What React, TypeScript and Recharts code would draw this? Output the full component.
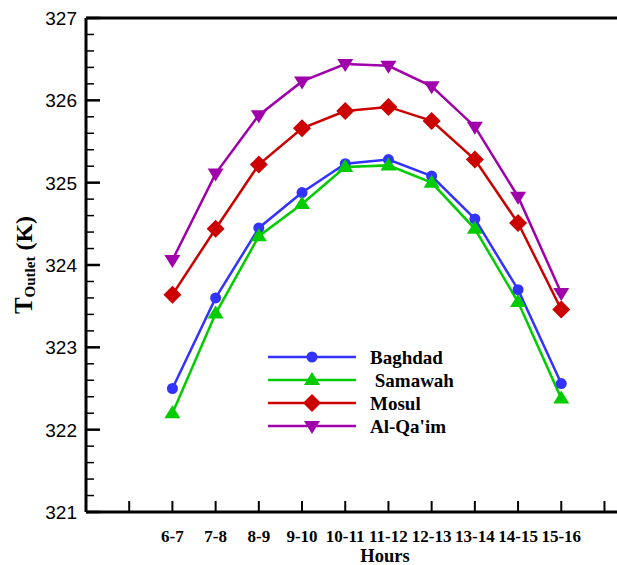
import { Label, Line, LineChart, ReferenceLine, XAxis, YAxis } from 'recharts';

const hours = ['6-7', '7-8', '8-9', '9-10', '10-11', '11-12', '12-13', '13-14', '14-15', '15-16'];
const baghdad = [322.5, 323.6, 324.45, 324.88, 325.23, 325.28, 325.08, 324.56, 323.7, 322.56];
const samawah = [322.2, 323.41, 324.35, 324.74, 325.19, 325.21, 325.0, 324.44, 323.55, 322.38];
const mosul = [323.64, 324.44, 325.22, 325.66, 325.87, 325.92, 325.75, 325.28, 324.51, 323.46];
const alQaim = [324.06, 325.11, 325.82, 326.23, 326.44, 326.42, 326.17, 325.68, 324.83, 323.66];

const yMajor = [321, 322, 323, 324, 325, 326, 327];
const xTicks = [-1, 0, 1, 2, 3, 4, 5, 6, 7, 8, 9, 10];

const series = [
    { key: 'baghdad', name: 'Baghdad', color: '#3333ff', shape: 'circle', values: baghdad },
    { key: 'samawah', name: ' Samawah', color: '#00cc00', shape: 'triangle', values: samawah },
    { key: 'mosul', name: 'Mosul', color: '#cc0000', shape: 'diamond', values: mosul },
    { key: 'alQaim', name: "Al-Qa'im", color: '#a000aa', shape: 'down', values: alQaim },
];

const data = hours.map((h, i) => {
    const row: any = { x: i, hour: h };
    series.forEach((s) => (row[s.key] = s.values[i]));
    return row;
});

// 4 minor ticks between every pair of major ticks
const yTicks: number[] = [];
yMajor.forEach((v, i) => {
    yTicks.push(v);
    if (i < yMajor.length - 1) for (let k = 1; k < 5; k++) yTicks.push(+(v + k * 0.2).toFixed(1));
});

const serif = '"Liberation Serif", "Times New Roman", serif';
const sans = '"Liberation Sans", Arial, sans-serif';

const Marker = ({ shape, cx, cy, color }: any) => {
    if (cx == null || cy == null) return null;
    if (shape === 'circle') return <circle cx={cx} cy={cy} r={5.5} fill={color} />;
    if (shape === 'triangle')
        return <polygon points={`${cx},${cy - 8} ${cx + 8},${cy + 5} ${cx - 8},${cy + 5}`} fill={color} />;
    if (shape === 'diamond')
        return <polygon points={`${cx},${cy - 9} ${cx + 9},${cy} ${cx},${cy + 9} ${cx - 9},${cy}`} fill={color} />;
    return <polygon points={`${cx - 8},${cy - 5} ${cx + 8},${cy - 5} ${cx},${cy + 8}`} fill={color} />;
};

const XTick = ({ x, y, payload }: any) => {
    const label = hours[payload.value];
    return (
        <g>
            <line x1={x} y1={y} x2={x} y2={y - 11} stroke="#000" strokeWidth={2} />
            {label && (
                <text x={x} y={y + 30} textAnchor="middle" fontFamily={serif} fontWeight="bold" fontSize={17} fill="#000">
                    {label}
                </text>
            )}
        </g>
    );
};

const YTick = ({ x, y, payload }: any) => {
    const major = Number.isInteger(payload.value);
    return (
        <g>
            <line x1={x} y1={y} x2={x + (major ? 14 : 8)} y2={y} stroke="#000" strokeWidth={major ? 2.5 : 1.5} />
            {major && (
                <text x={x - 9} y={y + 7} textAnchor="end" fontFamily={sans} fontSize={19} fill="#000">
                    {payload.value}
                </text>
            )}
        </g>
    );
};

const YLabel = () => (
    <text transform="translate(32,265) rotate(-90)" textAnchor="middle" fontFamily={serif} fontWeight="bold" fill="#000">
        <tspan fontSize={25}>T</tspan>
        <tspan fontSize={15} dy={3}>Outlet</tspan>
        <tspan fontSize={24} dy={-3}>{'  (K)'}</tspan>
    </text>
);

const LegendBox = () => (
    <svg width={617} height={565} style={{ position: 'absolute', left: 0, top: 0, pointerEvents: 'none' }}>
        {series.map((s, i) => {
            const y = 357 + i * 23;
            return (
                <g key={s.key}>
                    <line x1={268} y1={y} x2={356} y2={y} stroke={s.color} strokeWidth={2.5} />
                    <Marker shape={s.shape} cx={312} cy={y} color={s.color} />
                    <text x={370} y={y + 6.5} fontFamily={serif} fontWeight="bold" fontSize={19} fill="#000" style={{ whiteSpace: 'pre' }}>
                        {s.name}
                    </text>
                </g>
            );
        })}
    </svg>
);

export default function App() {
    return (
        <div style={{ position: 'absolute', left: 0, top: 0, width: 617, height: 565, overflow: 'hidden', background: '#fff' }}>
            <LineChart width={617} height={565} data={data} margin={{ top: 18, right: 0, bottom: 0, left: 0 }}>
                <XAxis
                    type="number"
                    dataKey="x"
                    domain={[-2, 10.29]}
                    ticks={xTicks}
                    interval={0}
                    allowDataOverflow
                    height={53}
                    tickLine={false}
                    tickSize={0}
                    tickMargin={0}
                    tick={<XTick />}
                    axisLine={{ stroke: '#000', strokeWidth: 3 }}
                >
                    <Label
                        content={() => (
                            <text x={385} y={562} textAnchor="middle" fontFamily={serif} fontWeight="bold" fontSize={18.5} fill="#000">
                                Hours
                            </text>
                        )}
                    />
                </XAxis>
                <YAxis
                    type="number"
                    domain={[321, 327]}
                    ticks={yTicks}
                    interval={0}
                    width={86}
                    tickLine={false}
                    tickSize={0}
                    tickMargin={0}
                    tick={<YTick />}
                    axisLine={{ stroke: '#000', strokeWidth: 3 }}
                    label={{ content: () => <YLabel /> }}
                />
                <ReferenceLine y={327} stroke="#000" strokeWidth={3} />
                {series.map((s) => (
                    <Line
                        key={s.key}
                        dataKey={s.key}
                        stroke={s.color}
                        strokeWidth={2.5}
                        isAnimationActive={false}
                        activeDot={false}
                        dot={(p: any) => <Marker key={`${s.key}-${p.index}`} shape={s.shape} cx={p.cx} cy={p.cy} color={s.color} />}
                    />
                ))}
            </LineChart>
            <LegendBox />
        </div>
    );
}
